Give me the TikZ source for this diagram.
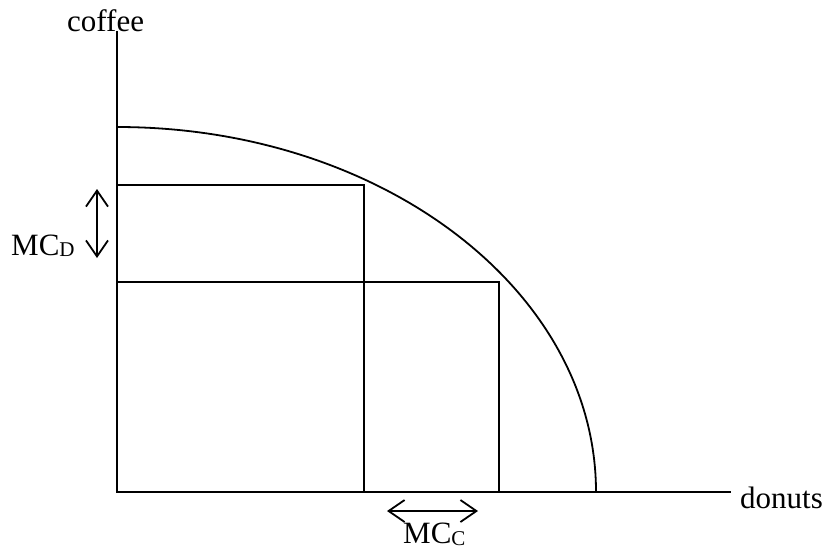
\documentclass[tikz,border=0pt]{standalone}
\usepackage{fontspec}
\setmainfont{Liberation Serif}
\usetikzlibrary{arrows.meta}
\begin{document}
\begin{tikzpicture}[x=1pt,y=-1pt,
  axisline/.style={line width=2pt},
  thinline/.style={line width=1.8pt},
  dblarrow/.style={line width=1.8pt,{Straight Barb[length=16pt,width=22pt]}-{Straight Barb[length=16pt,width=22pt]}},
  lbl/.style={inner sep=0pt,anchor=base west,font=\fontsize{31}{31}\selectfont}]
\useasboundingbox (0,0) rectangle (826,550);
% coordinates
\coordinate (O) at (117,492);
\coordinate (ytop) at (117,31);
\coordinate (xend) at (731,492);
\coordinate (ctop) at (117,127);
\coordinate (a) at (117,185);
\coordinate (ar) at (364,185);
\coordinate (ab) at (364,492);
\coordinate (b) at (117,282);
\coordinate (br) at (499,282);
\coordinate (bb) at (499,492);
\coordinate (d1) at (97,189);
\coordinate (d2) at (97,258);
\coordinate (c1) at (387,511);
\coordinate (c2) at (478,511);
% axes
\draw[axisline] (ytop) -- (O) -- (xend);
% frontier
\draw[thinline] (ctop) arc[start angle=-90,end angle=0,x radius=479,y radius=365];
% rectangles
\draw[thinline] (a) -- (ar) -- (ab);
\draw[thinline] (b) -- (br) -- (bb);
% arrows
\draw[dblarrow] (d1) -- (d2);
\draw[dblarrow] (c1) -- (c2);
% labels
\node[lbl] (coffee) at (67,31) {coffee};
\node[lbl] (donuts) at (740,508) {donuts};
\node[lbl] (mcd) at (11,255) {MC\raisebox{-1pt}{\fontsize{21}{21}\selectfont D}};
\node[lbl] (mcc) at (403,543) {MC\raisebox{-2pt}{\fontsize{21}{21}\selectfont C}};
\end{tikzpicture}
\end{document}
